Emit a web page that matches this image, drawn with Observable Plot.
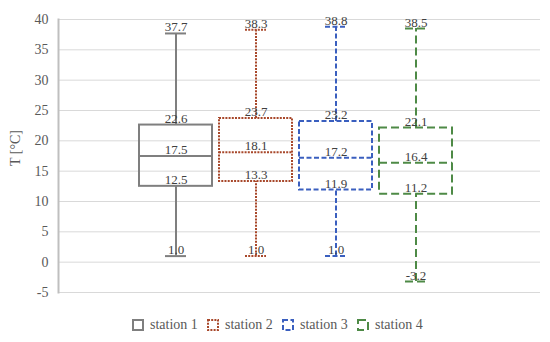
<!DOCTYPE html>
<html>
<head>
<meta charset="utf-8">
<script src="https://cdn.jsdelivr.net/npm/d3@7"></script>
<script src="https://cdn.jsdelivr.net/npm/@observablehq/plot@0.6"></script>
<style>
  body { margin: 0; background: #fff; }
  #chart { width: 550px; }
</style>
</head>
<body>
<div id="chart"></div>
<script>
const stations = ["station 1", "station 2", "station 3", "station 4"];
const maxima   = [37.7, 38.3, 38.8, 38.5];
const q3s      = [22.6, 23.7, 23.2, 22.1];
const medians  = [17.5, 18.1, 17.2, 16.4];
const q1s      = [12.5, 13.3, 11.9, 11.2];
const minima   = [1.0, 1.0, 1.0, -3.2];
const colors   = ["#7f7f7f", "#a8482b", "#3a5fbf", "#4e8a46"];
const dashes   = ["none", "2,1.2", "5,2.5", "8,4"];
const yTicks   = [-5, 0, 5, 10, 15, 20, 25, 30, 35, 40];

const rows = stations.map((s, i) => ({
  station: s, max: maxima[i], q3: q3s[i], med: medians[i], q1: q1s[i], min: minima[i]
}));

const font = "'Liberation Serif', serif";
const marks = [
  Plot.gridY(yTicks, {stroke: "#d9d9d9", strokeOpacity: 1, strokeWidth: 1}),
  Plot.axisY(yTicks, {tickSize: 0, tickPadding: 10, fontSize: 14, fill: "#595959", fontFamily: font, label: null, tickFormat: d => d < 0 ? "-" + Math.abs(d) : String(d)}),
  Plot.frame({anchor: "left", stroke: "#bfbfbf", strokeWidth: 2})
];

rows.forEach((r, i) => {
  const d = [r];
  const style = {stroke: colors[i], strokeWidth: 2, strokeDasharray: dashes[i]};
  marks.push(
    Plot.ruleX(d, {x: "station", y1: "q3", y2: "max", ...style}),
    Plot.ruleX(d, {x: "station", y1: "min", y2: "q1", ...style}),
    Plot.rect(d, {x: "station", y1: "q1", y2: "q3", fill: "none", ...style}),
    Plot.tickY(d, {x: "station", y: "med", ...style}),
    Plot.tickY(d, {x: "station", y: "max", inset: 26, ...style}),
    Plot.tickY(d, {x: "station", y: "min", inset: 26, ...style})
  );
  ["max", "q3", "med", "q1", "min"].forEach(k => {
    marks.push(Plot.text(d, {x: "station", y: k, text: dd => dd[k].toFixed(1), lineAnchor: "bottom", dy: -2, fontSize: 13, fill: "#404040", fontFamily: font}));
  });
});

const plot = Plot.plot({
  width: 550,
  height: 308,
  marginTop: 19,
  marginBottom: 16,
  marginLeft: 58,
  marginRight: 10,
  style: {fontFamily: font, background: "#fff"},
  x: {type: "band", domain: stations, paddingInner: 0.086, paddingOuter: 1.02, align: 0.478, axis: null},
  y: {domain: [-5, 40], label: null, axis: null},
  marks
});
document.getElementById("chart").appendChild(plot);

// y label
d3.select(plot).append("text")
  .attr("transform", "translate(20,148) rotate(-90)")
  .attr("text-anchor", "middle")
  .attr("font-size", 14)
  .attr("fill", "#595959")
  .text("T [°C]");

d3.select(plot).selectAll("text").style("font-family", font);

// legend
const legend = d3.select("#chart").append("div")
  .style("display", "flex").style("padding-left", "132px").style("height", "34px")
  .style("align-items", "center").style("font-family", font).style("font-size", "14px")
  .style("color", "#595959");
stations.forEach((s, i) => {
  const item = legend.append("div").style("display", "flex").style("align-items", "center").style("width", "75px").style("white-space", "nowrap");
  const isvg = item.append("svg").attr("width", 12).attr("height", 12).style("margin-right", "6px");
  isvg.append("rect").attr("x", 1).attr("y", 1).attr("width", 10).attr("height", 10)
    .attr("fill", "none").attr("stroke", colors[i]).attr("stroke-width", 2)
    .attr("stroke-dasharray", dashes[i] === "none" ? null : dashes[i]);
  item.append("span").text(s);
});
</script>
</body>
</html>
